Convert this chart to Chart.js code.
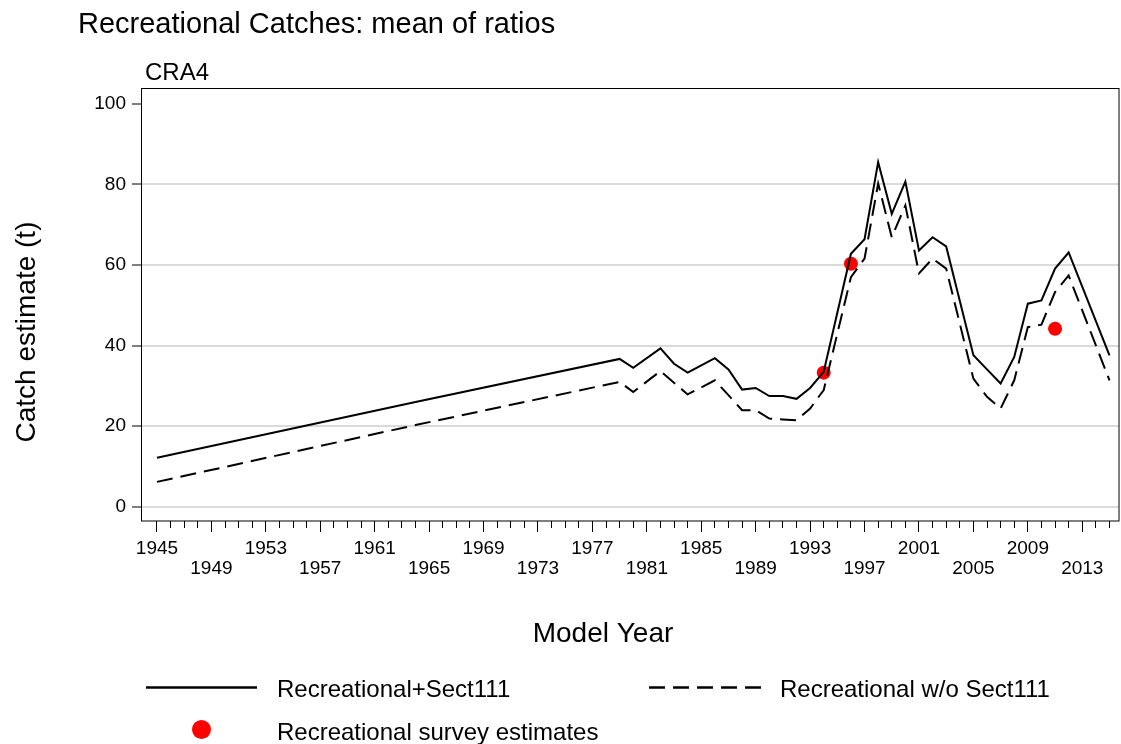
<!DOCTYPE html>
<html>
<head>
<meta charset="utf-8">
<title>Recreational Catches: mean of ratios</title>
<script src="https://cdn.jsdelivr.net/npm/chart.js@4.4.1/dist/chart.umd.min.js"></script>
<style>
  html, body { margin: 0; padding: 0; background: #fff; }
  #chart { display: block; }
</style>
</head>
<body>
<canvas id="chart" width="1121" height="744"></canvas>
<script>
// values (t); years with no visible bend are left out
const recYears   = [1945, 1964, 1979, 1980, 1982, 1983, 1984, 1985, 1986, 1987, 1988, 1989, 1990, 1991, 1992, 1993, 1994,
                    1996, 1997, 1998, 1999, 2000, 2001, 2002, 2003, 2005, 2006, 2007, 2008, 2009, 2010, 2011, 2012, 2015];
const recSect111 = [12.2, 26.0, 36.7, 34.5, 39.3, 35.5, 33.3, 35.1, 36.9, 34.1, 29.1, 29.5, 27.5, 27.5, 26.8, 29.5, 33.5,
                    62.8, 66.4, 85.5, 72.7, 80.7, 63.6, 66.9, 64.6, 37.6, 34.1, 30.6, 37.2, 50.4, 51.2, 59.1, 63.1, 37.6];

const noSectYears = [1945, 1964, 1979, 1980, 1982, 1984, 1986, 1988, 1989, 1990, 1991, 1992, 1993, 1994,
                     1996, 1997, 1998, 1999, 2000, 2001, 2002, 2003, 2005, 2006, 2007, 2008, 2009, 2010, 2011, 2012, 2015];
const recNoSect   = [6.2, 20.3, 31.0, 28.5, 33.7, 27.9, 31.4, 24.0, 24.0, 21.9, 21.7, 21.5, 24.4, 29.0,
                     57.0, 61.6, 80.2, 66.9, 74.8, 57.9, 61.6, 59.1, 31.8, 27.3, 24.4, 31.4, 44.6, 45.2, 53.3, 57.4, 31.4];

const surveyYears = [1994, 1996, 2011];
const surveyVals  = [33.3, 60.3, 44.2];

const majorYears = [1945, 1949, 1953, 1957, 1961, 1965, 1969, 1973, 1977, 1981, 1985, 1989, 1993, 1997, 2001, 2005, 2009, 2013];
const yTicks = [0, 20, 40, 60, 80, 100];

const seriesNames = ['Recreational+Sect111', 'Recreational w/o Sect111', 'Recreational survey estimates'];

const FONT = "'Liberation Sans', Arial, sans-serif";
Chart.defaults.font.family = FONT;
Chart.defaults.color = '#000';

const toPoints = (xs, ys) => xs.map((x, i) => ({ x: x, y: ys[i] }));

// title, panel label, frame, axis titles and legend
const decor = {
  id: 'decor',
  beforeDatasetsDraw(chart) {
    const { ctx, chartArea: a } = chart;
    ctx.save();
    ctx.strokeStyle = '#000';
    ctx.lineWidth = 1;
    ctx.strokeRect(a.left - 0.5, a.top + 0.5, a.right - a.left + 0.5, a.bottom - a.top - 0.5);
    ctx.restore();
  },
  afterDraw(chart) {
    const ctx = chart.ctx;
    const ds = chart.data.datasets;
    ctx.save();
    ctx.fillStyle = '#000';
    ctx.textBaseline = 'alphabetic';

    ctx.font = '29px ' + FONT;
    ctx.textAlign = 'left';
    ctx.fillText('Recreational Catches: mean of ratios', 78, 33);

    ctx.font = '24px ' + FONT;
    ctx.fillText('CRA4', 145, 80);

    ctx.font = '28px ' + FONT;
    ctx.textAlign = 'center';
    ctx.fillText('Model Year', 603, 642);
    ctx.save();
    ctx.translate(35, 332);
    ctx.rotate(-Math.PI / 2);
    ctx.fillText('Catch estimate (t)', 0, 0);
    ctx.restore();

    // legend
    ctx.textAlign = 'left';
    ctx.font = '24px ' + FONT;
    ctx.lineWidth = 2.5;
    ctx.strokeStyle = ds[0].borderColor;
    ctx.beginPath(); ctx.moveTo(146, 687.5); ctx.lineTo(257, 687.5); ctx.stroke();
    ctx.fillText(ds[0].label, 277, 697);

    ctx.strokeStyle = ds[1].borderColor;
    ctx.setLineDash(ds[1].borderDash);
    ctx.beginPath(); ctx.moveTo(649, 687.5); ctx.lineTo(761, 687.5); ctx.stroke();
    ctx.setLineDash([]);
    ctx.fillText(ds[1].label, 780, 697);

    ctx.fillStyle = ds[2].backgroundColor;
    ctx.beginPath(); ctx.arc(201.5, 729.5, 9.5, 0, Math.PI * 2); ctx.fill();
    ctx.fillStyle = '#000';
    ctx.fillText(ds[2].label, 277, 740);
    ctx.restore();
  }
};

new Chart(document.getElementById('chart'), {
  type: 'line',
  data: {
    datasets: [
      {
        label: seriesNames[0],
        data: toPoints(recYears, recSect111),
        borderColor: '#000',
        borderWidth: 2,
        pointRadius: 0,
        tension: 0,
        fill: false
      },
      {
        label: seriesNames[1],
        data: toPoints(noSectYears, recNoSect),
        borderColor: '#000',
        borderWidth: 2,
        borderDash: [16, 8],
        pointRadius: 0,
        tension: 0,
        fill: false
      },
      {
        label: seriesNames[2],
        type: 'scatter',
        data: toPoints(surveyYears, surveyVals),
        backgroundColor: '#ff0000',
        borderWidth: 0,
        pointRadius: 7,
        pointHoverRadius: 7
      }
    ]
  },
  options: {
    responsive: false,
    animation: false,
    layout: { autoPadding: false, padding: { top: 88, right: 2, left: 0, bottom: 0 } },
    plugins: {
      legend: { display: false },
      title: { display: false },
      tooltip: { enabled: false }
    },
    events: [],
    scales: {
      x: {
        type: 'linear',
        min: 1943.9,
        max: 2015.7,
        border: { display: false },
        grid: {
          drawOnChartArea: false,
          drawTicks: true,
          tickLength: 11,
          tickWidth: 1,
          tickColor: c => (c.tick && c.tick.value >= 1945) ? '#000' : 'rgba(0,0,0,0)',
          tickBorderDash: c => (c.tick && majorYears.includes(c.tick.value)) ? [] : [7, 40]
        },
        ticks: {
          stepSize: 1,
          includeBounds: false,
          autoSkip: false,
          maxRotation: 0,
          minRotation: 0,
          padding: 7,
          font: { size: 19, lineHeight: '20px' },
          callback: v => {
            const i = majorYears.indexOf(v);
            if (i < 0) return '';
            return i % 2 === 0 ? [String(v)] : ['', String(v)];
          }
        },
        afterFit: s => { s.height = 223; s.paddingLeft = 0; s.paddingRight = 0; }
      },
      y: {
        min: -3.5,
        max: 103.9,
        border: { display: false },
        grid: {
          color: c => (c.tick && c.tick.value === 100) ? 'rgba(0,0,0,0)' : '#dadada',
          lineWidth: 2,
          drawTicks: true,
          tickLength: 10,
          tickWidth: 1,
          tickColor: '#000'
        },
        ticks: {
          stepSize: 20,
          includeBounds: false,
          padding: 6,
          font: { size: 19 },
          callback: v => yTicks.includes(v) ? String(v) : ''
        },
        afterFit: s => { s.width = 142; s.paddingTop = 0; s.paddingBottom = 0; }
      }
    }
  },
  plugins: [decor]
});
</script>
</body>
</html>
